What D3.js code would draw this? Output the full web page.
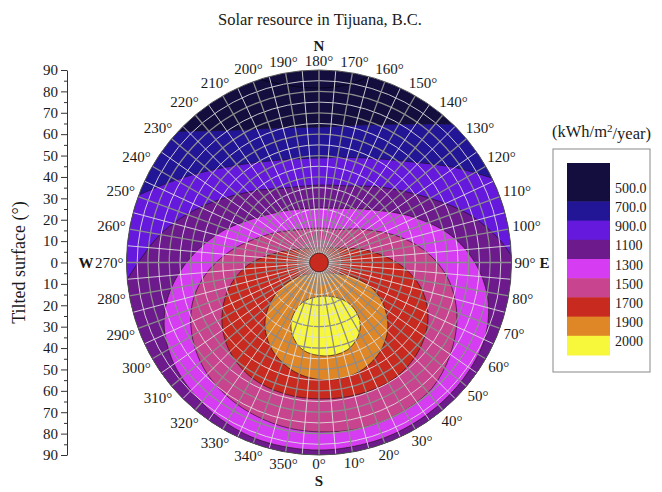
<!DOCTYPE html>
<html>
<head>
<meta charset="utf-8">
<script src="https://cdn.jsdelivr.net/npm/d3@7"></script>
<style>
body{margin:0;background:#fff;}
text{font-family:"Liberation Serif","Times New Roman",serif;fill:#1a1a1a;}
</style>
</head>
<body>
<div id="chart"></div>
<script>
// colour scale levels (kWh/m2/year)
var levels = [500, 700, 900, 1100, 1300, 1500, 1700, 1900, 2000];
var levelLabels = ["500.0", "700.0", "900.0", "1100", "1300", "1500", "1700", "1900", "2000"];
var levelColors = ["#130e3e", "#231696", "#6419dc", "#6c1a8c", "#d63cf2", "#c9448e", "#c92a20", "#df8726", "#f7f73c"];

// tick labels
var azimuthTicks = [0, 10, 20, 30, 40, 50, 60, 70, 80, 90, 100, 110, 120, 130, 140, 150, 160, 170,
                    180, 190, 200, 210, 220, 230, 240, 250, 260, 270, 280, 290, 300, 310, 320, 330, 340, 350];
var tiltTicks = [90, 80, 70, 60, 50, 40, 30, 20, 10, 0, -10, -20, -30, -40, -50, -60, -70, -80, -90];
var compassNames = ["S", "E", "N", "W"];
var compassAzimuth = [0, 90, 180, 270];

// contour lines as [azimuth (deg), tilt (deg)]
// open ones run from disk edge to disk edge across the north side
var contour500 = [[198, 90], [189, 83.6], [180, 81.6], [171, 84.1], [165, 90]];
var contour700 = [[227, 90], [214, 74.6], [196, 65.5], [180, 63.3], [160, 68.6], [144, 80.1], [136, 90]];
var contour900 = [[249.5, 90], [239, 76.1], [223, 61.4], [201, 51.3], [180, 48.9], [159, 52.5], [138, 63.4], [125, 77.4], [116, 90]];
var contour1100 = [[275, 90], [260, 75.4], [245, 61.2], [224, 46.1], [204.5, 38.3], [180, 36.2], [157.9, 38.6], [141, 45.4], [120, 60.0], [107.5, 74.0], [97, 85.3], [92, 90]];
// closed ones
var contour1300 = [[0, 87.7], [17, 87.5], [30, 87.3], [42, 87.0], [54, 86.5], [66, 85.1], [78, 80.7], [90, 72.9], [102, 62.6], [117, 47.8], [139, 33.0], [159, 27.1], [180, 25.5], [209, 28.0], [229, 33.6], [252, 47.5], [268, 60.3], [281, 71.0], [292, 78.1], [304, 82.5], [316, 84.8], [328, 86.5], [342, 87.6]];
var contour1500 = [[0, 79.2], [14.6, 79.9], [29, 79.9], [42, 79.0], [54.8, 75.0], [68.1, 69.5], [81.1, 62.0], [93.9, 52.0], [107.5, 39.7], [129.3, 24.7], [147.5, 18.3], [180, 16.1], [216.4, 18.9], [239.8, 26.5], [261.8, 41.1], [276.3, 53.6], [288.5, 62.6], [301.6, 69.2], [315.4, 73.9], [330.4, 76.6], [345.8, 78.4]];
var contour1700 = [[1.3, 63.8], [17.3, 64.4], [33.3, 64.6], [47.9, 62.4], [62.2, 57.6], [75.1, 49.8], [87.6, 38.8], [102.7, 24.4], [119.1, 13.9], [180, 6.8], [234.6, 10.9], [254.9, 18.9], [272, 33.2], [286.8, 44.4], [301.5, 53.2], [315.2, 59.0], [329.9, 62.4], [345.5, 63.5]];
var contour1900 = [[33.7, 5.9], [302.9, 13.4], [306.4, 25.6], [317.8, 37.6], [331.8, 46.4], [347.6, 52.4], [3.4, 55.0], [19.0, 54.6], [34.3, 50.6], [47.8, 43.5], [60.8, 32.1], [67.1, 19.8]];
var contour2000 = [[10.2, 15.9], [338.0, 19.9], [334.1, 28.8], [339.3, 35.7], [349.6, 41.6], [3.7, 43.8], [17.7, 43.0], [29.2, 38.3], [35.8, 32.0], [35.3, 22.6]];
var centerSpotTilt = 4.4;

var width = 662, height = 492;
var cx = 319, cy = 262.5, R = 192.5;

var svg = d3.select("#chart")
			.append("svg")
			.attr("width", width)
			.attr("height", height);

var rScale = d3.scaleLinear().domain([0, 90]).range([0, R]);
var yTilt = d3.scaleLinear().domain([90, -90]).range([cy - R, cy + R]);

function proj(d){
	var a = d[0] * Math.PI / 180;
	return [cx + rScale(d[1]) * Math.sin(a), cy + rScale(d[1]) * Math.cos(a)];
}

var openLine = d3.line().curve(d3.curveCatmullRom.alpha(0.5));
var closedLine = d3.line().curve(d3.curveCatmullRomClosed.alpha(0.5));

// region above an open contour: the contour, then back along the rim through the south
function bandPath(pts){
	var a0 = pts[pts.length - 1][0], a1 = pts[0][0] - 360;
	var rim = d3.range(a0, a1, -2).concat([a1]).map(function(a){ return proj([a, 90]); });
	return openLine(pts.map(proj)) + "L" + rim.map(function(p){ return p.join(","); }).join("L") + "Z";
}

svg.append("clipPath")
	.attr("id", "disk")
	.append("circle")
	.attr("cx", cx).attr("cy", cy).attr("r", R);

var plot = svg.append("g").attr("clip-path", "url(#disk)");

plot.append("circle")
	.attr("cx", cx).attr("cy", cy).attr("r", R)
	.attr("fill", levelColors[0]);

var openContours = [contour700, contour900, contour1100];
openContours.forEach(function(c, i){
	plot.append("path")
		.attr("d", bandPath(c))
		.attr("fill", levelColors[i + 1])
		.attr("stroke", "#1e1428")
		.attr("stroke-width", 0.7);
});

var closedContours = [contour1300, contour1500, contour1700, contour1900, contour2000];
closedContours.forEach(function(c, i){
	plot.append("path")
		.attr("d", closedLine(c.map(proj)))
		.attr("fill", levelColors[i + 4])
		.attr("stroke", "#2a1420")
		.attr("stroke-width", 0.7);
});

plot.append("path")
	.attr("d", openLine(contour500.map(proj)))
	.attr("fill", "none")
	.attr("stroke", "#05031a")
	.attr("stroke-width", 0.8);

// grid: rings and spokes every 5 degrees
var grid = plot.append("g");
d3.range(5, 90, 5).forEach(function(t){
	grid.append("circle")
		.attr("cx", cx).attr("cy", cy).attr("r", rScale(t))
		.attr("fill", "none")
		.attr("stroke", t % 10 == 0 ? "#8c8c8c" : "#dcdcdc")
		.attr("stroke-width", t % 10 == 0 ? 1.3 : 0.9);
});
d3.range(0, 360, 5).forEach(function(a){
	var p = proj([a, 90]);
	grid.append("line")
		.attr("x1", cx).attr("y1", cy)
		.attr("x2", p[0]).attr("y2", p[1])
		.attr("stroke", a % 10 == 0 ? "#8c8c8c" : "#dcdcdc")
		.attr("stroke-width", a % 10 == 0 ? 1.3 : 0.9);
});

plot.append("circle")
	.attr("cx", cx).attr("cy", cy).attr("r", rScale(centerSpotTilt))
	.attr("fill", levelColors[6])
	.attr("stroke", "#3a1010")
	.attr("stroke-width", 0.7);

svg.append("circle")
	.attr("cx", cx).attr("cy", cy).attr("r", R)
	.attr("fill", "none")
	.attr("stroke", "#555")
	.attr("stroke-width", 1);

// azimuth labels
var labelR = {};
azimuthTicks.forEach(function(a){
	var t = svg.append("text")
		.attr("text-anchor", "middle")
		.attr("dy", "0.35em")
		.style("font-size", "15px")
		.text(a + "°");
	var w = t.node().getComputedTextLength();
	var s = Math.sin(a * Math.PI / 180), c = Math.cos(a * Math.PI / 180);
	var off = R + 3 + Math.abs(s) * w / 2 + Math.abs(c) * 6;
	labelR[a] = off + Math.abs(s) * w / 2 + Math.abs(c) * 6;
	t.attr("x", cx + off * s).attr("y", cy + off * c);
});

compassNames.forEach(function(n, i){
	var a = compassAzimuth[i];
	var off = labelR[a] + (a == 0 ? 11 : 9);
	svg.append("text")
		.attr("text-anchor", "middle")
		.attr("dy", "0.35em")
		.style("font-size", "15px")
		.style("font-weight", "bold")
		.attr("x", cx + off * Math.sin(a * Math.PI / 180))
		.attr("y", cy + off * Math.cos(a * Math.PI / 180))
		.text(n);
});

// tilt axis on the left
var axisX = 67;
svg.append("g")
	.attr("transform", "translate(" + axisX + ",0)")
	.call(d3.axisLeft(yTilt).tickValues(d3.range(-85, 90, 10)).tickSize(3).tickSizeOuter(0).tickFormat(""))
	.call(function(g){ g.select(".domain").remove(); })
	.selectAll("line").attr("stroke", "#333");

var ax = svg.append("g")
	.attr("transform", "translate(" + axisX + ",0)")
	.call(d3.axisLeft(yTilt).tickValues(tiltTicks).tickSize(6).tickSizeOuter(0).tickPadding(3)
		.tickFormat(function(d){ return Math.abs(d); }));
ax.selectAll("text")
	.style("font-family", "'Liberation Serif','Times New Roman',serif")
	.style("font-size", "15px")
	.attr("fill", "#1a1a1a");
ax.selectAll("line").attr("stroke", "#333");
ax.select(".domain").attr("stroke", "#333");

svg.append("text")
	.attr("text-anchor", "middle")
	.attr("transform", "translate(25," + cy + ") rotate(-90)")
	.style("font-size", "18px")
	.text("Tilted surface (°)");

svg.append("text")
	.attr("text-anchor", "middle")
	.attr("x", 320)
	.attr("y", 25)
	.style("font-size", "16.5px")
	.text("Solar resource in Tijuana, B.C.");

// colour scale legend
var legX = 553, legY = 149, legW = 97, legH = 223;
var barX = 567, barW = 43, barTop = 163, boxH = 19.2;

svg.append("text")
	.attr("text-anchor", "middle")
	.attr("x", legX + legW / 2)
	.attr("y", 137)
	.style("font-size", "16.5px")
	.call(function(t){
		t.append("tspan").text("(kWh/m");
		t.append("tspan").attr("dy", "-0.45em").style("font-size", "11px").text("2");
		t.append("tspan").attr("dy", "0.45em").text("/year)");
	});

svg.append("rect")
	.attr("x", legX).attr("y", legY)
	.attr("width", legW).attr("height", legH)
	.attr("fill", "#fff")
	.attr("stroke", "#888")
	.attr("stroke-width", 1);

var boxTop = function(i){ return i == 0 ? barTop : barTop + boxH * (i + 1); };
var boxHeight = function(i){ return i == 0 ? boxH * 2 : boxH; };

svg.selectAll(".lbox")
	.data(levels)
	.enter()
	.append("rect")
	.attr("class", "lbox")
	.attr("x", barX)
	.attr("y", function(d, i){ return boxTop(i); })
	.attr("width", barW)
	.attr("height", function(d, i){ return boxHeight(i) + 0.5; })
	.attr("fill", function(d, i){ return levelColors[i]; });

svg.selectAll(".llab")
	.data(levelLabels)
	.enter()
	.append("text")
	.attr("class", "llab")
	.attr("x", barX + barW + 5)
	.attr("y", function(d, i){ return boxTop(i) + boxHeight(i) - boxH / 2 - 4; })
	.attr("dy", "0.35em")
	.style("font-size", "14px")
	.text(function(d){ return d; });
</script>
</body>
</html>
